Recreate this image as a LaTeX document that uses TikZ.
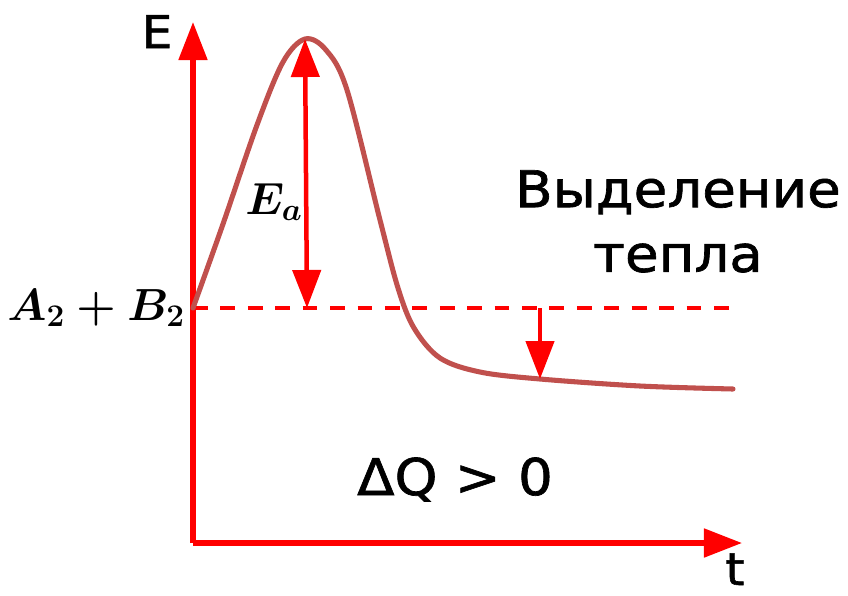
\RequirePackage{fix-cm}
\documentclass[tikz,border=0pt]{standalone}
\usepackage{amsmath}
\usepackage{fontspec}
\setmainfont{DejaVu Sans}
\newfontfamily\labelfont{DejaVu Sans}[FakeBold=1.3,FakeStretch=1.08]
\usepackage{xcolor}
\usetikzlibrary{arrows.meta}

\definecolor{curvered}{RGB}{192,80,77}

\begin{document}
\begin{tikzpicture}[
  x=0.025cm, y=-0.025cm,
  >={Triangle[length=0.95cm,width=0.7cm]},
  every node/.style={inner sep=0pt},
  axis/.style={->, red, line width=3.6pt},
  gap/.style={red, line width=3.2pt},
  level/.style={red, line width=2.2pt, dash pattern=on 10.5pt off 9pt},
  profile/.style={curvered, line width=3.6pt, line cap=round},
  lbl/.style={font=\labelfont\fontsize{32}{38}\selectfont},
  big/.style={font=\labelfont\fontsize{36}{46}\selectfont},
  mathlbl/.style={font=\fontsize{32}{36}\selectfont},
]
  \useasboundingbox (0,0) rectangle (848,595);

  % ---------- axes ----------
  \coordinate (o)    at (193,543);
  \coordinate (ytip) at (193,22);
  \coordinate (xtip) at (742,543);
  \draw[axis] (o) -- (ytip);
  \draw[axis] (o) -- (xtip);
  \node[lbl, anchor=base] (E) at (157,48) {E};
  \node[lbl, anchor=base] (t) at (735,585) {t};

  % ---------- reaction profile ----------
  \coordinate (start) at (193,308);
  \coordinate (peak)  at (305,39);
  \coordinate (low)   at (540,379);
  \draw[level] (start) -- (735,308);
  \draw[profile] plot[smooth, tension=0.55] coordinates {
    (193,308) (223,224) (257,125) (283,62)
    (305,39) (326,50) (347,90) (380,220) (398,288)
    (414,328) (440,358) (480,372) (540,379) (640,386) (733,389)};

  % activation energy
  \coordinate (foot) at (307,308);
  \draw[gap, <->] (peak) -- (foot);
  \node[mathlbl, anchor=base] (Ea) at (274,214) {$\boldsymbol{E_a}$};
  \node[mathlbl, anchor=base east] (AB) at (185,320) {$\boldsymbol{A_2+B_2}$};

  % released heat
  \coordinate (qtop) at (540,308);
  \draw[gap, ->] (qtop) -- (low);
  \node[big, anchor=north, align=center] (heat) at (678,170) {Выделение\\тепла};
  \node[big, anchor=base] (dQ) at (455,495) {ΔQ > 0};
\end{tikzpicture}
\end{document}
